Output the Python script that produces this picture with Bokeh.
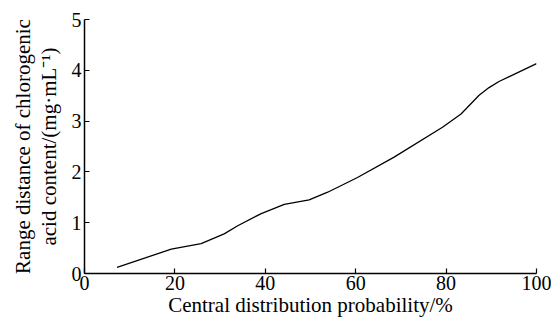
from bokeh.plotting import figure
from bokeh.embed import file_html
from bokeh.resources import INLINE
from bokeh.models import Range1d, FixedTicker

# Data
probability = [7.2, 19.2, 25.8, 30.9, 33.9, 39.1, 44.2, 49.7, 53.8, 60.4, 68.5, 79.2, 83.3, 87.3, 89.5, 91.7, 100.0]
range_distance = [0.12, 0.48, 0.59, 0.78, 0.94, 1.18, 1.36, 1.45, 1.60, 1.89, 2.29, 2.88, 3.14, 3.51, 3.66, 3.78, 4.13]
x_ticks = [0, 20, 40, 60, 80, 100]
y_ticks = [0, 1, 2, 3, 4, 5]
x_title = "Central distribution probability/%"
y_title = "Range distance of chlorogenic\nacid content/(mg·mL\u207b\u00b9)"

FONT = "Liberation Serif"

p = figure(width=551, height=322, output_backend="svg", toolbar_location=None,
           x_range=Range1d(0, 100), y_range=Range1d(0, 5),
           min_border_left=84, min_border_right=15, min_border_top=19, min_border_bottom=49)
p.outline_line_color = None
p.grid.grid_line_color = None
p.background_fill_color = "white"

p.line(probability, range_distance, line_color="black", line_width=1.3)

for ax in (p.xaxis[0], p.yaxis[0]):
    ax.axis_line_color = "black"
    ax.axis_line_width = 1.5
    ax.major_tick_in = 5
    ax.major_tick_out = 0
    ax.minor_tick_line_color = None
    ax.major_tick_line_color = "black"
    ax.major_tick_line_width = 1.2
    ax.major_label_text_font = FONT
    ax.major_label_text_font_size = "20px"
    ax.major_label_text_color = "black"
    ax.axis_label_text_font = FONT
    ax.axis_label_text_font_style = "normal"
    ax.axis_label_text_color = "black"

p.xaxis[0].ticker = FixedTicker(ticks=x_ticks)
p.yaxis[0].ticker = FixedTicker(ticks=y_ticks)
p.xaxis[0].major_label_standoff = 2
p.yaxis[0].major_label_standoff = 3
p.xaxis[0].axis_label = x_title
p.xaxis[0].axis_label_text_font_size = "21px"
p.xaxis[0].axis_label_standoff = 0
p.yaxis[0].axis_label = y_title
p.yaxis[0].axis_label_text_font_size = "21px"
p.yaxis[0].axis_label_text_line_height = 1.05
p.yaxis[0].axis_label_standoff = 8

open("out.html", "w").write(file_html(p, INLINE))
